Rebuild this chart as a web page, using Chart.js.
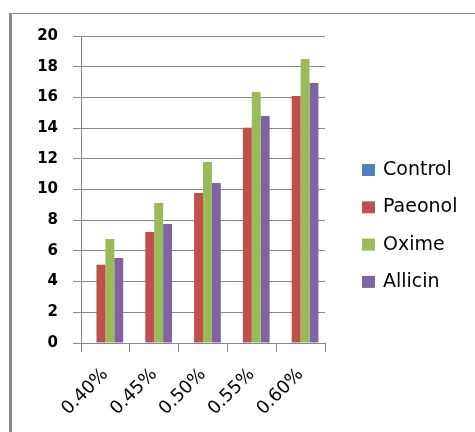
<!DOCTYPE html>
<html>
<head>
<meta charset="utf-8">
<script src="https://cdn.jsdelivr.net/npm/chart.js@4/dist/chart.umd.min.js"></script>
<style>
  html, body { margin: 0; padding: 0; background: #fff; }
  #wrap { position: relative; width: 475px; height: 432px; overflow: hidden; }
  #frame { position: absolute; left: 9px; top: 13px; width: 480px; height: 440px;
           border-left: 3px solid #888; border-top: 1px solid #888; pointer-events: none; }
  canvas { position: absolute; left: 0; top: 0; }
</style>
</head>
<body>
<div id="wrap">
  <canvas id="c" width="475" height="432"></canvas>
  <div id="frame"></div>
</div>
<script>
// Concentrations on the x axis
const categories = ['0.40%', '0.45%', '0.50%', '0.55%', '0.60%'];

// Series values
const control = [0, 0, 0, 0, 0];
const paeonol = [5.1, 7.23, 9.77, 14.03, 16.09];
const oxime   = [6.78, 9.12, 11.79, 16.35, 18.5];
const allicin = [5.54, 7.75, 10.42, 14.79, 16.94];

// Y axis range
const yMin = 0, yMax = 20, yStep = 2;

const seriesNames = ['Control', 'Paeonol', 'Oxime', 'Allicin'];
const seriesColors = ['#4F81BD', '#C0504D', '#9BBB59', '#8064A2'];
const seriesData = [control, paeonol, oxime, allicin];

const gridColor = '#888888';

// Legend drawn at the right of the plot, one row per dataset
const sideLegend = {
  id: 'sideLegend',
  afterDraw(chart) {
    const ctx = chart.ctx;
    ctx.save();
    ctx.font = '19px "DejaVu Sans"';
    ctx.textBaseline = 'middle';
    ctx.textAlign = 'left';
    chart.data.datasets.forEach((ds, i) => {
      const y = 170 + i * 37.3;
      ctx.fillStyle = ds.backgroundColor;
      ctx.fillRect(362, y - 6, 13, 12);
      ctx.fillStyle = '#000';
      ctx.fillText(ds.label, 383, y);
    });
    ctx.restore();
  }
};

new Chart(document.getElementById('c'), {
  type: 'bar',
  data: {
    labels: categories,
    datasets: seriesNames.map((name, i) => ({
      label: name,
      data: seriesData[i],
      backgroundColor: seriesColors[i],
      borderWidth: 0,
      categoryPercentage: 0.73,
      barPercentage: 1.0
    }))
  },
  options: {
    responsive: false,
    animation: false,
    devicePixelRatio: 1,
    layout: { padding: { left: 0, top: 36, right: 150, bottom: 0 } },
    plugins: {
      legend: { display: false },
      tooltip: { enabled: false }
    },
    scales: {
      x: {
        offset: true,
        grid: {
          display: true,
          offset: true,
          drawOnChartArea: false,
          drawTicks: true,
          tickLength: 9,
          color: gridColor,
          lineWidth: 1
        },
        border: { display: true, color: gridColor, width: 1 },
        ticks: {
          color: '#000',
          font: { family: 'DejaVu Sans', size: 18 },
          minRotation: 45,
          maxRotation: 45,
          padding: 12
        },
        afterFit(scale) { scale.height = 89; }
      },
      y: {
        min: yMin,
        max: yMax,
        grid: {
          color: gridColor,
          lineWidth: 1,
          drawTicks: true,
          tickLength: 8
        },
        border: { display: true, color: gridColor, width: 1 },
        ticks: {
          stepSize: yStep,
          color: '#000',
          font: { family: 'DejaVu Sans', size: 15, weight: 'bold' },
          padding: 15
        },
        afterFit(scale) { scale.width = 81; }
      }
    }
  },
  plugins: [sideLegend]
});
</script>
</body>
</html>
